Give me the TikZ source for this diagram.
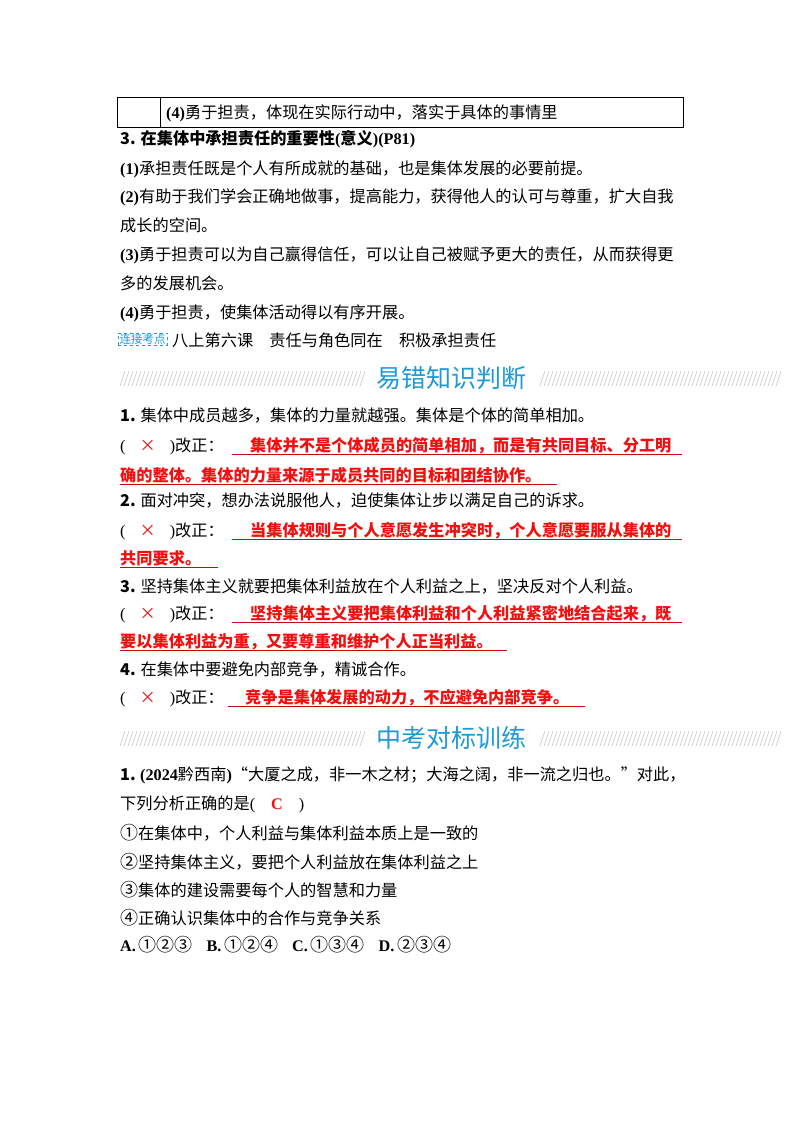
\documentclass[tikz,border=0pt]{standalone}
\usepackage{fontspec}
\setmainfont{Noto Sans CJK SC}
\newfontfamily\lt{Liberation Serif}
\newfontfamily\ls{Liberation Sans}
\XeTeXlinebreaklocale "zh"
\XeTeXlinebreakskip=0pt plus 2pt
\definecolor{hblue}{HTML}{1E9AD6}
\definecolor{ared}{HTML}{F01010}
\newcommand{\fl}[1]{\makebox[562pt][s]{#1}}
\newcommand{\cir}[1]{{\fontsize{18}{20}\selectfont #1}}
\begin{document}
\begin{tikzpicture}[x=1pt,y=-1pt,
  tx/.style={anchor=base west,inner sep=0pt,font=\fontsize{16.2}{20}\selectfont},
  rd/.style={tx,text=ared,font=\fontsize{16.2}{20}\selectfont\bfseries},
  hd/.style={anchor=center,inner sep=0pt,text=hblue,font=\fontsize{25}{30}\selectfont},
  ul/.style={ared!80!black,line width=0.8pt}]
\useasboundingbox (0,0) rectangle (800,1132);
\fill[white] (0,0) rectangle (800,1132);
% table
\draw[line width=0.9pt] (117,97) rectangle (683,127);
\draw[line width=0.9pt] (160,97) -- (160,127);
\node[tx] (t0) at (166,118) {{\lt\bfseries (4)}勇于担责，体现在实际行动中，落实于具体的事情里};
\node[tx,font=\fontsize{16.2}{20}\selectfont\bfseries] (s3) at (120,144) {3. 在集体中承担责任的重要性{\lt(}意义{\lt)(P81)}};
\node[tx] (p1) at (120,174) {{\lt\bfseries (1)}承担责任既是个人有所成就的基础，也是集体发展的必要前提。};
\node[tx] (p2) at (120,202) {\fl{{\lt\bfseries (2)}有助于我们学会正确地做事，提高能力，获得他人的认可与尊重，扩大自我}};
\node[tx] (p2b) at (120,231) {成长的空间。};
\node[tx] (p3) at (120,260) {\fl{{\lt\bfseries (3)}勇于担责可以为自己赢得信任，可以让自己被赋予更大的责任，从而获得更}};
\node[tx] (p3b) at (120,289) {多的发展机会。};
\node[tx] (p4) at (120,318) {{\lt\bfseries (4)}勇于担责，使集体活动得以有序开展。};
\node[draw=hblue,dashed,line width=0.4pt,inner xsep=1.5pt,inner ysep=1pt,text=hblue,font=\fontsize{11.5}{12}\selectfont,anchor=west] (tag) at (118,339) {连接考点};
\node[tx] (lk) at (172,346) {八上第六课\quad 责任与角色同在\quad 积极承担责任};
% header 1
\foreach \x in {120,124,...,360} \draw[gray!45,line width=0.6pt] (\x,386) -- (\x+5,371);
\foreach \x in {540,544,...,776} \draw[gray!45,line width=0.6pt] (\x,386) -- (\x+5,371);
\node[hd] (h1) at (451,378) {易错知识判断};
% items
\node[tx] (q1) at (120,421) {{\bfseries 1.} 集体中成员越多，集体的力量就越强。集体是个体的简单相加。};
\node[tx] (a1) at (120,451) {{\lt(}\hspace{14pt}{\color{ared}×}\hspace{14pt}{\lt)}改正：};
\draw[ul] (232,454) -- (682,454);
\node[rd] (a1t) at (250,451) {\makebox[432pt][s]{集体并不是个体成员的简单相加，而是有共同目标、分工明}};
\node[rd] (a1u) at (120,481) {确的整体。集体的力量来源于成员共同的目标和团结协作。};
\draw[ul] (120,484) -- (557,484);
\node[tx] (q2) at (120,506) {{\bfseries 2.} 面对冲突，想办法说服他人，迫使集体让步以满足自己的诉求。};
\node[tx] (a2) at (120,536) {{\lt(}\hspace{14pt}{\color{ared}×}\hspace{14pt}{\lt)}改正：};
\draw[ul] (232,539) -- (682,539);
\node[rd] (a2t) at (250,536) {\makebox[432pt][s]{当集体规则与个人意愿发生冲突时，个人意愿要服从集体的}};
\node[rd] (a2u) at (120,564) {共同要求。};
\draw[ul] (120,567) -- (218,567);
\node[tx] (q3) at (120,592) {{\bfseries 3.} 坚持集体主义就要把集体利益放在个人利益之上，坚决反对个人利益。};
\node[tx] (a3) at (120,619) {{\lt(}\hspace{14pt}{\color{ared}×}\hspace{14pt}{\lt)}改正：};
\draw[ul] (232,622) -- (682,622);
\node[rd] (a3t) at (250,619) {\makebox[432pt][s]{坚持集体主义要把集体利益和个人利益紧密地结合起来，既}};
\node[rd] (a3u) at (120,647) {要以集体利益为重，又要尊重和维护个人正当利益。};
\draw[ul] (120,650) -- (507,650);
\node[tx] (q4) at (120,675) {{\bfseries 4.} 在集体中要避免内部竞争，精诚合作。};
\node[tx] (a4) at (120,703) {{\lt(}\hspace{14pt}{\color{ared}×}\hspace{14pt}{\lt)}改正：};
\draw[ul] (228,706) -- (585,706);
\node[rd] (a4t) at (245,703) {竞争是集体发展的动力，不应避免内部竞争。};
% header 2
\foreach \x in {120,124,...,360} \draw[gray!45,line width=0.6pt] (\x,746) -- (\x+5,731);
\foreach \x in {540,544,...,776} \draw[gray!45,line width=0.6pt] (\x,746) -- (\x+5,731);
\node[hd] (h2) at (451,738) {中考对标训练};
\node[tx] (z1) at (120,780) {\fl{{\bfseries 1.} {\lt\bfseries (2024}黔西南{\lt\bfseries )}“大厦之成，非一木之材；大海之阔，非一流之归也。”对此，}};
\node[tx] (z1b) at (120,809) {下列分析正确的是{\lt(}\hspace{16pt}{\lt\bfseries\color{ared}C}\hspace{16pt}{\lt)}};
\node[tx] (o1) at (120,839) {\cir{①}在集体中，个人利益与集体利益本质上是一致的};
\node[tx] (o2) at (120,868) {\cir{②}坚持集体主义，要把个人利益放在集体利益之上};
\node[tx] (o3) at (120,896) {\cir{③}集体的建设需要每个人的智慧和力量};
\node[tx] (o4) at (120,924) {\cir{④}正确认识集体中的合作与竞争关系};
\node[tx] (ch) at (120,951) {{\lt\bfseries A.}\,\cir{①②③}\hspace{14pt}{\lt\bfseries B.}\,\cir{①②④}\hspace{14pt}{\lt\bfseries C.}\,\cir{①③④}\hspace{14pt}{\lt\bfseries D.}\,\cir{②③④}};
\end{tikzpicture}
\end{document}
